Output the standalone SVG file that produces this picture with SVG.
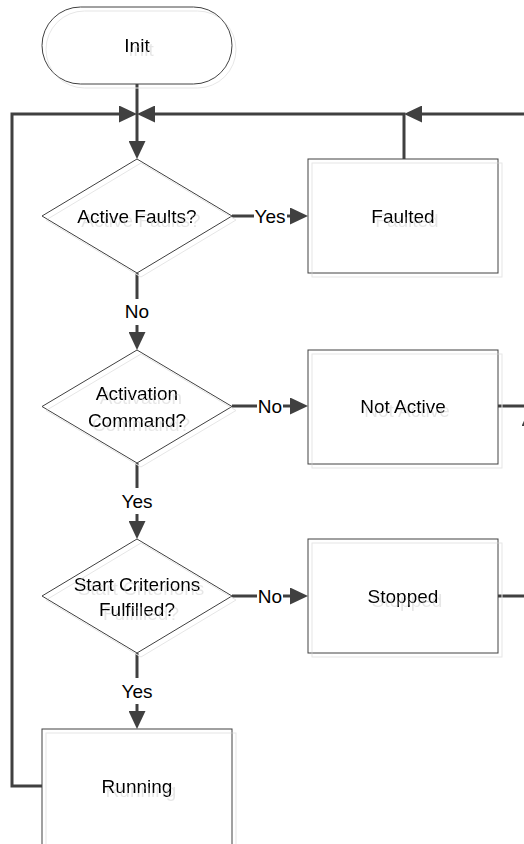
<svg xmlns="http://www.w3.org/2000/svg" width="524" height="844" viewBox="0 0 524 844">
<style>
.shape{fill:none;stroke:#404040;stroke-width:1}
.t{font-family:"Liberation Sans",Arial,sans-serif;font-size:19px;fill:#000;text-anchor:middle}
.c{fill:none;stroke:#404040;stroke-width:3}
.lb{fill:#fff}
</style>
<defs>
<filter id="sh" x="-10%" y="-10%" width="130%" height="130%">
<feOffset in="SourceAlpha" dx="4" dy="4" result="o"/>
<feFlood flood-color="#e6e6e6"/>
<feComposite in2="o" operator="in" result="s"/>
<feMerge><feMergeNode in="s"/><feMergeNode in="SourceGraphic"/></feMerge>
</filter>
<marker id="ar" viewBox="0 0 18 17" refX="10" refY="8.5" markerWidth="18" markerHeight="17" markerUnits="userSpaceOnUse" orient="auto">
<path d="M0,0 L18,8.5 L0,17 z" fill="#404040"/>
</marker>
</defs>
<rect width="524" height="844" fill="#fff"/>

<g id="connectors">
<path class="c" d="M137,84 V151" marker-end="url(#ar)"/>
<path class="c" d="M42,786 H12 V114 H129" marker-end="url(#ar)"/>
<path class="c" d="M404,159 V114 H145" marker-end="url(#ar)"/>
<path class="c" d="M498,406 H530 V114 H412" marker-end="url(#ar)"/>
<path class="c" d="M498,596 H530 V416" marker-end="url(#ar)"/>
<path class="c" d="M232,216 H300" marker-end="url(#ar)"/>
<path class="c" d="M137,273 V342" marker-end="url(#ar)"/>
<path class="c" d="M232,406 H300" marker-end="url(#ar)"/>
<path class="c" d="M137,463 V531" marker-end="url(#ar)"/>
<path class="c" d="M232,596 H300" marker-end="url(#ar)"/>
<path class="c" d="M137,653 V721" marker-end="url(#ar)"/>
<rect class="lb" x="254" y="206" width="33" height="20"/>
<text class="t" x="270" y="223">Yes</text>
<rect class="lb" x="125" y="299" width="24" height="26"/>
<text class="t" x="137" y="318">No</text>
<rect class="lb" x="257" y="396" width="26" height="20"/>
<text class="t" x="270" y="413">No</text>
<rect class="lb" x="120" y="488" width="34" height="26"/>
<text class="t" x="137" y="508">Yes</text>
<rect class="lb" x="257" y="586" width="26" height="20"/>
<text class="t" x="270" y="603">No</text>
<rect class="lb" x="120" y="678" width="34" height="26"/>
<text class="t" x="137" y="698">Yes</text>
</g>

<g id="init" filter="url(#sh)">
<rect class="shape" x="42" y="7" width="190" height="77" rx="38.5"/>
<text class="t" x="137" y="52">Init</text>
</g>
<g id="active-faults" filter="url(#sh)">
<path class="shape" d="M137,159 L232,216 L137,273 L42,216 z"/>
<text class="t" x="137" y="223">Active Faults?</text>
</g>
<g id="faulted" filter="url(#sh)">
<rect class="shape" x="308" y="159" width="190" height="114"/>
<text class="t" x="403" y="223">Faulted</text>
</g>
<g id="activation-command" filter="url(#sh)">
<path class="shape" d="M137,350 L232,406.5 L137,463 L42,406.5 z"/>
<text class="t" x="137" y="400">Activation</text>
<text class="t" x="137" y="426.5">Command?</text>
</g>
<g id="not-active" filter="url(#sh)">
<rect class="shape" x="308" y="350" width="190" height="114"/>
<text class="t" x="403" y="413">Not Active</text>
</g>
<g id="start-criterions" filter="url(#sh)">
<path class="shape" d="M137,539 L232,596 L137,653 L42,596 z"/>
<text class="t" x="137" y="590.5">Start Criterions</text>
<text class="t" x="137" y="616">Fulfilled?</text>
</g>
<g id="stopped" filter="url(#sh)">
<rect class="shape" x="308" y="539" width="190" height="114"/>
<text class="t" x="403" y="603">Stopped</text>
</g>
<g id="running" filter="url(#sh)">
<rect class="shape" x="42" y="729" width="190" height="117"/>
<text class="t" x="137" y="793">Running</text>
</g>
</svg>
